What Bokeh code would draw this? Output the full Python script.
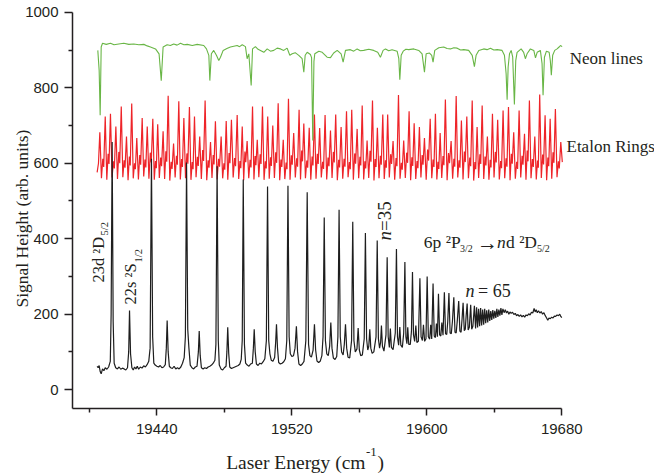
import math
from bokeh.plotting import figure
from bokeh.models import FixedTicker, Label, Range1d, LinearAxis
from bokeh.embed import file_html
from bokeh.resources import INLINE

# ---------------- data ----------------
x_major_ticks = [19440, 19520, 19600, 19680]
x_minor_ticks = [19400, 19480, 19560, 19640]
y_major_ticks = [0, 200, 400, 600, 800, 1000]
y_minor_ticks = [100, 300, 500, 700, 900]
x_axis_span = (19390, 19680)
y_axis_span = (-50, 1000)

# Rydberg spectrum (black), vertices (energy cm-1, signal)
signal_trace = [
    (19404.6, 62), (19405.2, 58), (19405.8, 64), (19406.4, 48), (19407.0, 42), (19407.8, 55),
    (19408.6, 50), (19409.4, 58), (19410.4, 54), (19411.4, 60), (19412.4, 75), (19412.9, 200),
    (19413.5, 656), (19414.1, 180), (19414.7, 70), (19415.6, 58), (19416.6, 55), (19417.6, 60),
    (19418.6, 54), (19419.6, 57), (19420.6, 55), (19421.6, 52), (19422.6, 58), (19423.3, 100),
    (19423.8, 210), (19424.4, 95), (19425.2, 58), (19426.0, 52), (19426.8, 60), (19427.6, 55),
    (19428.4, 62), (19429.2, 54), (19430.2, 60), (19431.2, 57), (19432.2, 63), (19433.2, 60),
    (19434.2, 66), (19435.2, 75), (19436.0, 110), (19436.8, 612), (19437.5, 140), (19438.2, 70),
    (19439.0, 65), (19440.0, 62), (19441.0, 60), (19442.0, 64), (19443.0, 58), (19444.0, 60),
    (19445.0, 66), (19445.6, 110), (19446.1, 183), (19446.7, 100), (19447.4, 62), (19448.2, 58),
    (19449.2, 56), (19450.2, 62), (19451.2, 55), (19452.2, 58), (19453.2, 55), (19454.2, 60),
    (19455.2, 70), (19456.2, 85), (19456.9, 140), (19457.6, 602), (19458.3, 160), (19459.0, 110),
    (19459.8, 65), (19460.8, 58), (19461.8, 55), (19462.8, 60), (19463.8, 62), (19464.6, 100),
    (19465.1, 155), (19465.7, 90), (19466.4, 58), (19467.4, 55), (19468.4, 58), (19469.4, 56),
    (19470.4, 60), (19471.4, 62), (19472.4, 65), (19473.4, 70), (19474.4, 78), (19475.0, 120),
    (19475.7, 592), (19476.4, 130), (19477.0, 65), (19478.0, 55), (19479.0, 52), (19480.0, 58),
    (19481.0, 62), (19481.5, 100), (19482.0, 165), (19482.6, 95), (19483.2, 60), (19484.2, 56),
    (19485.2, 58), (19486.2, 60), (19487.2, 62), (19488.2, 64), (19489.2, 68), (19490.0, 80),
    (19490.6, 130), (19491.2, 557), (19491.9, 120), (19492.6, 70), (19493.6, 65), (19494.6, 62),
    (19495.6, 68), (19496.6, 70), (19497.2, 110), (19497.7, 160), (19498.3, 100), (19499.0, 68),
    (19500.0, 64), (19501.0, 70), (19502.0, 68), (19503.0, 74), (19504.0, 82), (19504.9, 130),
    (19505.6, 538), (19506.3, 130), (19507.0, 95), (19507.8, 78), (19508.8, 75), (19509.8, 85),
    (19510.4, 125), (19510.9, 173), (19511.5, 110), (19512.2, 72), (19513.2, 68), (19514.2, 70),
    (19515.2, 74), (19516.2, 82), (19517.0, 130), (19517.7, 540), (19518.4, 140), (19519.1, 95),
    (19520.0, 88), (19521.0, 90), (19521.9, 110), (19522.7, 168), (19523.4, 100), (19524.2, 68),
    (19525.2, 64), (19526.2, 68), (19527.2, 75), (19528.3, 130), (19529.1, 523), (19529.9, 120),
    (19530.7, 90), (19531.6, 86), (19532.6, 105), (19533.4, 173), (19534.1, 105), (19534.9, 76),
    (19535.9, 72), (19536.9, 76), (19537.8, 90), (19538.5, 140), (19539.2, 456), (19539.9, 130),
    (19540.7, 95), (19541.6, 90), (19542.4, 115), (19543.1, 178), (19543.8, 110), (19544.6, 84),
    (19545.6, 80), (19546.6, 88), (19547.3, 140), (19548.0, 477), (19548.7, 140), (19549.5, 100),
    (19550.4, 92), (19551.1, 120), (19551.8, 173), (19552.5, 110), (19553.3, 86), (19554.3, 84),
    (19555.4, 130), (19556.1, 445), (19556.8, 130), (19557.6, 100), (19558.6, 108), (19559.3, 163),
    (19560.0, 105), (19560.8, 90), (19561.8, 92), (19562.9, 135), (19563.6, 415), (19564.3, 135),
    (19565.0, 105), (19565.6, 115), (19566.2, 160), (19566.8, 110), (19567.6, 96), (19568.6, 100),
    (19569.9, 140), (19570.6, 395), (19571.3, 135), (19572.0, 110), (19572.6, 125), (19573.1, 170),
    (19573.7, 115), (19574.6, 102), (19575.8, 145), (19576.5, 351), (19577.1, 140), (19577.8, 112),
    (19578.4, 162), (19579.0, 112), (19580.0, 106), (19581.3, 150), (19582.0, 373), (19582.6, 140),
    (19583.3, 118), (19584.0, 166), (19584.6, 118), (19585.5, 112), (19586.3, 150), (19587.0, 338),
    (19587.6, 140), (19588.2, 122), (19588.7, 165), (19589.3, 120), (19590.2, 120), (19590.9, 155),
    (19591.5, 312), (19592.1, 145), (19592.8, 128), (19593.5, 170), (19594.1, 125), (19595.0, 128),
    (19595.9, 295), (19596.6, 140), (19597.4, 130), (19598.0, 172), (19598.7, 128), (19599.5, 135),
    (19600.2, 300), (19600.9, 140), (19601.7, 134), (19602.3, 172), (19602.9, 134), (19603.7, 281),
    (19604.4, 142), (19605.1, 138), (19605.7, 175), (19606.3, 140), (19606.9, 254), (19607.6, 145),
    (19608.3, 142), (19608.9, 178), (19609.6, 144), (19610.4, 258), (19611.1, 148), (19611.8, 146),
    (19612.4, 180), (19613.1, 256), (19613.8, 150), (19614.5, 148), (19615.2, 182), (19616.0, 245),
    (19616.7, 152), (19617.4, 150), (19618.1, 185), (19618.9, 235), (19619.6, 155), (19620.3, 152),
    (19620.9, 188), (19621.5, 230), (19622.2, 156), (19622.8, 160), (19623.3, 195), (19623.9, 228),
    (19624.5, 158), (19625.2, 165), (19626.0, 225), (19626.6, 160), (19627.3, 168), (19628.2, 222),
    (19628.9, 162), (19629.5, 218), (19630.1, 165), (19630.7, 214), (19631.3, 168), (19631.9, 216),
    (19632.5, 170), (19633.1, 212), (19633.7, 172), (19634.3, 214), (19634.9, 176), (19635.5, 210),
    (19636.1, 178), (19636.7, 212), (19637.3, 182), (19637.9, 208), (19638.5, 185), (19639.1, 211),
    (19639.7, 188), (19640.3, 209), (19640.9, 190), (19641.5, 214), (19642.1, 193), (19642.7, 212),
    (19643.3, 196), (19643.9, 216), (19644.5, 198), (19645.1, 214), (19645.8, 204), (19646.5, 212),
    (19647.2, 203), (19647.9, 208), (19648.6, 200), (19649.3, 206), (19650.0, 202), (19650.8, 205),
    (19651.6, 199), (19652.4, 202), (19653.2, 196), (19654.0, 199), (19654.8, 194), (19655.6, 198),
    (19656.4, 193), (19657.2, 197), (19658.0, 192), (19658.8, 198), (19659.6, 196), (19660.4, 201),
    (19661.2, 198), (19662.0, 205), (19662.8, 203), (19663.6, 215), (19664.2, 206), (19664.8, 212),
    (19665.5, 204), (19666.2, 209), (19667.0, 203), (19667.8, 207), (19668.6, 200), (19669.4, 204),
    (19670.2, 196), (19671.0, 190), (19671.7, 184), (19672.4, 190), (19673.2, 188), (19674.0, 192),
    (19674.8, 190), (19675.6, 195), (19676.4, 194), (19677.2, 198), (19678.0, 196), (19678.8, 200),
    (19679.4, 194), (19680.0, 191),
]

# Etalon rings (red): fringe peaks, then the valley / secondary bump / dip between fringes
etalon_peak_E = [
    19406.2, 19409.4, 19412.5, 19415.7, 19418.9, 19422.0, 19425.1, 19428.1, 19431.3, 19434.3,
    19437.6, 19440.5, 19443.7, 19446.7, 19449.9, 19453.0, 19456.0, 19459.3, 19462.3, 19465.4,
    19468.6, 19471.8, 19474.7, 19478.1, 19481.1, 19484.2, 19487.6, 19490.6, 19493.5, 19496.7,
    19499.5, 19502.6, 19505.7, 19508.7, 19511.9, 19514.9, 19518.0, 19521.1, 19524.3, 19527.1,
    19530.3, 19533.4, 19536.5, 19539.7, 19542.9, 19546.0, 19549.2, 19552.4, 19555.5, 19558.7,
    19561.7, 19564.6, 19567.8, 19570.7, 19573.9, 19576.8, 19580.0, 19583.2, 19586.3, 19589.5,
    19592.5, 19595.6, 19598.6, 19602.0, 19605.1, 19607.9, 19611.0, 19614.4, 19617.4, 19620.5,
    19623.7, 19626.9, 19629.8, 19632.8, 19635.9, 19638.9, 19642.0, 19645.2, 19648.4, 19651.5,
    19654.7, 19657.9, 19660.8, 19664.0, 19666.9, 19670.1, 19673.1, 19676.2, 19679.4,
]
etalon_peak_S = [
    682, 724, 731, 697, 750, 671, 758, 667, 720, 697,
    718, 703, 685, 779, 652, 764, 720, 749, 724, 671,
    766, 656, 711, 671, 712, 715, 728, 697, 659, 750,
    662, 750, 724, 700, 759, 662, 771, 680, 742, 705,
    694, 729, 693, 728, 687, 729, 696, 738, 742, 691,
    753, 660, 766, 694, 729, 729, 659, 781, 660, 738,
    706, 696, 667, 718, 731, 680, 769, 659, 778, 713,
    724, 766, 696, 753, 671, 731, 715, 740, 749, 682,
    740, 678, 766, 671, 782, 727, 718, 744, 656,
]
etalon_valley_S = [
    560, 556, 562, 558, 563, 555, 560, 557, 565, 559,
    556, 561, 558, 554, 562, 557, 560, 556, 563, 558,
    555, 561, 557, 560, 556, 562, 558, 555, 560, 557,
    563, 556, 559, 561, 555, 558, 556, 562, 557, 560,
    556, 559, 562, 557, 561, 555, 559, 563, 556, 560,
    557, 561, 554, 560, 558, 562, 556, 559, 561, 555,
    558, 562, 556, 560, 557, 561, 555, 559, 562, 557,
    560, 554, 561, 558, 556, 562, 557, 560, 555, 559,
    562, 556, 560, 557, 561, 555, 559, 563,
]
etalon_bump_S = [
    612, 625, 605, 630, 608, 618, 600, 622, 610, 628,
    606, 615, 632, 604, 620, 611, 626, 603, 617, 635,
    608, 622, 612, 600, 627, 614, 606, 631, 609, 619,
    624, 605, 616, 629, 610, 602, 621, 613, 634, 607,
    618, 625, 604, 615, 630, 609, 612, 603, 626, 617,
    605, 633, 611, 620, 608, 624, 614, 601, 628, 616,
    606, 622, 636, 610, 604, 619, 627, 612, 608, 631,
    615, 603, 624, 618, 609, 630, 606, 613, 625, 604,
    620, 634, 611, 607, 623, 615, 629, 605,
]
etalon_dip_S = [
    590, 598, 586, 600, 588, 594, 584, 596, 589, 602,
    587, 592, 604, 585, 596, 590, 599, 584, 593, 606,
    588, 597, 591, 583, 600, 592, 587, 603, 589, 595,
    598, 586, 593, 601, 590, 584, 596, 591, 605, 588,
    594, 598, 585, 592, 602, 589, 591, 584, 599, 594,
    586, 604, 590, 596, 588, 598, 592, 583, 601, 593,
    587, 596, 607, 590, 585, 595, 600, 591, 588, 603,
    592, 584, 598, 594, 589, 602, 587, 591, 599, 585,
    596, 605, 590, 588, 597, 592, 601, 586,
]
etalon_start = [(19404.6, 576), (19405.4, 600)]
etalon_end = [(19680.3, 603)]

# Neon reference lines (green), vertices
neon_trace = [
    (19405.0, 899), (19405.8, 846), (19406.4, 727), (19407.0, 908), (19407.8, 918), (19410.0, 915),
    (19412.5, 918), (19414.6, 914), (19417.4, 916), (19420.4, 918), (19423.4, 915), (19426.3, 916),
    (19429.3, 914), (19432.3, 915), (19434.3, 911), (19436.2, 908), (19439.2, 903), (19441.3, 890),
    (19442.6, 819), (19443.7, 908), (19446.1, 914), (19448.0, 912), (19450.0, 916), (19452.0, 913),
    (19454.0, 918), (19456.0, 914), (19458.0, 915), (19461.0, 912), (19463.9, 915), (19467.8, 912),
    (19469.4, 903), (19470.8, 886), (19471.4, 819), (19472.3, 890), (19473.7, 899), (19475.3, 886),
    (19476.7, 872), (19477.7, 881), (19479.3, 899), (19481.5, 904), (19483.6, 908), (19485.6, 910),
    (19487.6, 912), (19489.0, 909), (19490.6, 914), (19492.5, 909), (19493.5, 877), (19494.5, 890),
    (19495.9, 806), (19496.7, 903), (19498.4, 909), (19500.0, 902), (19501.4, 899), (19503.4, 894),
    (19505.4, 903), (19507.3, 897), (19509.3, 899), (19511.3, 905), (19513.3, 903), (19515.2, 899),
    (19517.2, 905), (19518.8, 886), (19520.2, 890), (19522.0, 893), (19524.1, 886), (19526.1, 877),
    (19527.1, 841), (19527.9, 886), (19529.1, 894), (19531.0, 888), (19531.7, 880), (19532.4, 660),
    (19533.1, 870), (19533.6, 890), (19536.0, 897), (19538.0, 894), (19540.9, 881), (19542.9, 880),
    (19544.8, 892), (19546.9, 899), (19549.2, 890), (19550.4, 868), (19551.8, 899), (19554.7, 901),
    (19556.7, 897), (19558.7, 903), (19560.6, 898), (19562.6, 899), (19565.6, 902), (19568.5, 899),
    (19570.9, 894), (19572.5, 881), (19574.1, 899), (19575.5, 903), (19577.4, 898), (19579.4, 901),
    (19582.4, 897), (19583.4, 877), (19584.0, 821), (19584.8, 886), (19586.0, 897), (19587.6, 902),
    (19589.3, 901), (19592.3, 903), (19595.2, 899), (19597.2, 890), (19598.6, 841), (19599.6, 890),
    (19601.6, 892), (19602.9, 886), (19603.7, 868), (19604.7, 899), (19607.1, 906), (19610.0, 908),
    (19612.0, 904), (19614.0, 903), (19616.0, 906), (19618.0, 905), (19620.0, 900), (19621.9, 901),
    (19624.8, 899), (19626.9, 886), (19628.2, 856), (19629.2, 886), (19630.8, 899), (19633.7, 903),
    (19635.7, 901), (19637.7, 905), (19639.7, 900), (19641.7, 901), (19644.6, 899), (19646.0, 886),
    (19647.0, 837), (19647.6, 768), (19648.2, 855), (19649.0, 890), (19650.0, 899), (19650.9, 881),
    (19651.9, 756), (19652.7, 872), (19653.5, 894), (19655.9, 903), (19657.4, 894), (19658.4, 877),
    (19659.4, 890), (19661.4, 903), (19663.4, 899), (19664.4, 879), (19665.4, 894), (19667.3, 899),
    (19668.3, 864), (19668.9, 780), (19669.7, 881), (19670.9, 897), (19672.5, 894), (19673.2, 872),
    (19673.8, 833), (19674.6, 886), (19675.8, 899), (19677.2, 903), (19678.4, 908), (19679.2, 912),
    (19680.2, 909),
]

# ---------------- build line vertices from the tables ----------------
sig_E = [v[0] for v in signal_trace]
sig_S = [v[1] for v in signal_trace]
neon_E = [v[0] for v in neon_trace]
neon_S = [v[1] for v in neon_trace]

et_E = [v[0] for v in etalon_start]
et_S = [v[1] for v in etalon_start]
for i in range(len(etalon_peak_E)):
    et_E.append(etalon_peak_E[i]); et_S.append(etalon_peak_S[i])
    if i < len(etalon_peak_E) - 1:
        g = etalon_peak_E[i + 1] - etalon_peak_E[i]
        e0 = etalon_peak_E[i]
        et_E += [e0 + 0.30 * g, e0 + 0.55 * g, e0 + 0.72 * g]
        et_S += [etalon_valley_S[i], etalon_bump_S[i], etalon_dip_S[i]]
et_E += [v[0] for v in etalon_end]
et_S += [v[1] for v in etalon_end]

# ---------------- layout: plot area covers the whole canvas ----------------
CW, CH = 654, 474
# axis box in canvas px: x from 72 to 561.3, y from 11.8 (top, 1000) to 408 (bottom, -50)
BX0, BX1, BY0, BY1 = 72.0, 561.3, 11.8, 408.0
KX = (BX1 - BX0) / (x_axis_span[1] - x_axis_span[0])
KY = (BY1 - BY0) / (y_axis_span[1] - y_axis_span[0])
XS = x_axis_span[0] - BX0 / KX
XE = XS + CW / KX
YT = y_axis_span[1] + BY0 / KY
YB = YT - CH / KY

def at(px, py):
    """canvas pixel position -> data position, used only to place text"""
    return XS + px / KX, YT - py / KY

INK = "#231f20"
p = figure(width=CW, height=CH, output_backend="svg", toolbar_location=None, tools="",
           x_range=Range1d(XS, XE), y_range=Range1d(YB, YT),
           x_axis_location=None, y_axis_location=None, min_border=0)
p.outline_line_color = None
p.background_fill_color = "white"
p.border_fill_color = "white"
for gr in p.grid:
    gr.visible = False

p.line(et_E, et_S, line_color="#ee2429", line_width=1.2)
p.line(neon_E, neon_S, line_color="#69b646", line_width=1.1)
p.line(sig_E, sig_S, line_color="#1e1e1e", line_width=1.2)

xax = LinearAxis(fixed_location=y_axis_span[0], bounds=x_axis_span,
                 ticker=FixedTicker(ticks=x_major_ticks, minor_ticks=x_minor_ticks))
yax = LinearAxis(fixed_location=x_axis_span[0], bounds=y_axis_span,
                 ticker=FixedTicker(ticks=y_major_ticks, minor_ticks=y_minor_ticks))
for ax in (xax, yax):
    ax.axis_line_color = INK
    ax.axis_line_width = 1.5
    ax.major_tick_line_color = INK
    ax.minor_tick_line_color = INK
    ax.major_tick_line_width = 1.5
    ax.minor_tick_line_width = 1.5
    ax.major_tick_in = 0
    ax.minor_tick_in = 0
    ax.minor_tick_out = 4
    ax.major_label_text_font = "Liberation Sans"
    ax.major_label_text_font_size = "15px"
    ax.major_label_text_color = INK
xax.major_tick_out = 7
yax.major_tick_out = 8
xax.major_label_standoff = 8
yax.major_label_standoff = 6
p.add_layout(xax, "below")
p.add_layout(yax, "left")

SERIF = "Liberation Serif"

def lab(px, py, text, size, align="left", baseline="alphabetic", angle=0.0, style="normal"):
    x, y = at(px, py)
    p.add_layout(Label(x=x, y=y, text=text, text_font=SERIF, text_font_size=f"{size}px",
                       text_color=INK, text_align=align, text_baseline=baseline,
                       angle=angle, text_font_style=style))

UP = math.pi / 2

# axis titles
lab(21, 307, "Signal Height (arb. units)", 17.5, angle=UP)
lab(365, 462, "Laser Energy (cm", 19.5, align="right")
lab(365.5, 451, "-1", 13)
lab(377, 462, ")", 19.5)

# trace names
lab(569.3, 58.3, "Neon lines", 17)
lab(566, 145.7, "Etalon Rings", 17)

# rotated state labels
lab(98, 282, "23d \u00b2D", 16.5, angle=UP)
lab(103.5, 235, "5/2", 10.5, angle=UP)
lab(130, 304, "22s \u00b2S", 16.5, angle=UP)
lab(137.5, 262, "1/2", 10.5, angle=UP)
lab(383.5, 240, "n", 19, angle=UP, style="italic")
lab(383.5, 230.5, "=35", 19, angle=UP)

# series label 6p 2P3/2 -> nd 2D5/2
lab(423.3, 241.5, "6p \u00b2P", 17.5)
lab(459.5, 248, "3/2", 10)
lab(476.5, 242.5, "\u2192", 21)
lab(496.5, 241.5, "n", 17.5, style="italic")
lab(505.5, 241.5, "d \u00b2D", 17.5)
lab(536.5, 248, "5/2", 10)

# n = 65
lab(465, 290.7, "n", 18, style="italic")
lab(477.5, 290.7, "= 65", 18)

open("out.html", "w").write(file_html(p, INLINE))
